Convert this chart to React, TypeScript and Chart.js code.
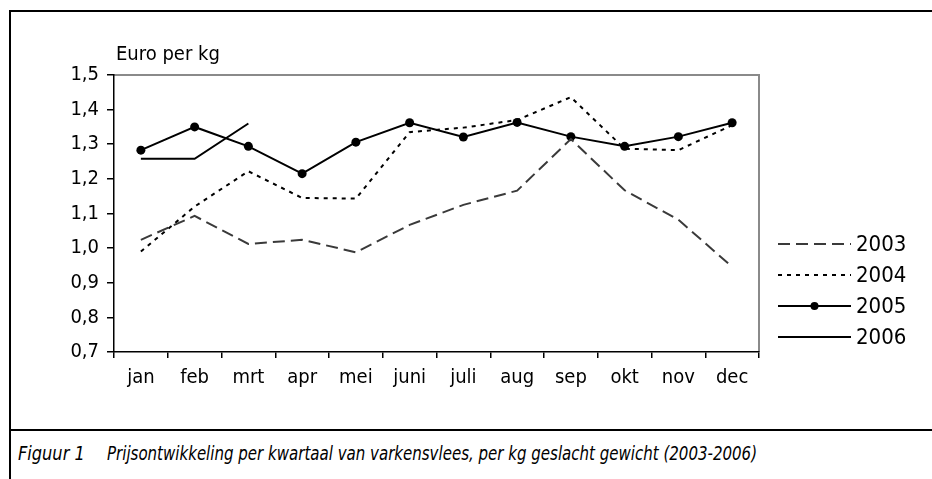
import React, { useEffect, useRef } from 'react';
import { Chart, registerables } from 'chart.js';

Chart.register(...registerables);

const months = ['jan', 'feb', 'mrt', 'apr', 'mei', 'juni', 'juli', 'aug', 'sep', 'okt', 'nov', 'dec'];
const years = ['2003', '2004', '2005', '2006'];
const s2003 = [1.024, 1.093, 1.012, 1.024, 0.988, 1.067, 1.125, 1.166, 1.315, 1.167, 1.082, 0.946];
const s2004 = [0.99, 1.12, 1.222, 1.145, 1.143, 1.335, 1.348, 1.37, 1.436, 1.287, 1.283, 1.355];
const s2005 = [1.283, 1.35, 1.294, 1.215, 1.306, 1.362, 1.321, 1.363, 1.322, 1.294, 1.322, 1.362];
const s2006 = [1.258, 1.258, 1.36, null, null, null, null, null, null, null, null, null];
const yMin = 0.7;
const yMax = 1.5;
const yStep = 0.1;
const yAxisTitle = 'Euro per kg';
const captionLabel = 'Figuur 1';
const captionText = 'Prijsontwikkeling per kwartaal van varkensvlees, per kg geslacht gewicht (2003-2006)';

const FONT = '"Liberation Sans Narrow", "Arial Narrow", "DejaVu Sans Condensed", "Liberation Sans", sans-serif';

const framePlugin = {
  id: 'framePlugin',
  beforeDraw(chart: any) {
    const { ctx, chartArea } = chart;
    ctx.save();
    ctx.strokeStyle = '#8a8a8a';
    ctx.lineWidth = 2;
    ctx.beginPath();
    ctx.moveTo(chartArea.left, chartArea.top);
    ctx.lineTo(chartArea.right, chartArea.top);
    ctx.lineTo(chartArea.right, chartArea.bottom);
    ctx.stroke();
    ctx.restore();
  },
  afterDraw(chart: any) {
    const { ctx, chartArea } = chart;
    ctx.save();
    ctx.fillStyle = '#000';
    ctx.font = `20px ${FONT}`;
    ctx.textBaseline = 'middle';
    ctx.textAlign = 'left';
    ctx.fillText(yAxisTitle, chartArea.left + 2, chartArea.top - 20);
    const x0 = chartArea.right + 19;
    const x1 = chartArea.right + 92;
    chart.data.datasets.forEach((ds: any, i: number) => {
      const y = chartArea.top + 169 + i * 31;
      ctx.strokeStyle = ds.borderColor;
      ctx.lineWidth = ds.borderWidth;
      ctx.setLineDash(ds.borderDash || []);
      ctx.beginPath();
      ctx.moveTo(x0, y);
      ctx.lineTo(x1, y);
      ctx.stroke();
      ctx.setLineDash([]);
      if (ds.pointRadius > 0) {
        ctx.fillStyle = ds.pointBackgroundColor;
        ctx.beginPath();
        ctx.arc((x0 + x1) / 2, y, ds.pointRadius - 0.5, 0, Math.PI * 2);
        ctx.fill();
      }
      ctx.fillStyle = '#000';
      ctx.font = `22px ${FONT}`;
      ctx.fillText(ds.label, x1 + 5, y + 1);
    });
    ctx.restore();
  },
};

export default function App() {
  const ref = useRef<HTMLCanvasElement>(null);

  useEffect(() => {
    const chart = new Chart(ref.current!, {
      type: 'line',
      data: {
        labels: months,
        datasets: [
          {
            label: years[0],
            data: s2003,
            borderColor: '#3a3a3a',
            borderWidth: 2,
            borderDash: [12, 6],
            pointRadius: 0,
            pointBackgroundColor: '#3a3a3a',
            tension: 0,
          },
          {
            label: years[1],
            data: s2004,
            borderColor: '#000',
            borderWidth: 2,
            borderDash: [4, 5],
            pointRadius: 0,
            pointBackgroundColor: '#000',
            tension: 0,
          },
          {
            label: years[2],
            data: s2005,
            borderColor: '#000',
            borderWidth: 2,
            pointRadius: 4.5,
            pointBackgroundColor: '#000',
            pointBorderColor: '#000',
            pointBorderWidth: 0,
            tension: 0,
          },
          {
            label: years[3],
            data: s2006,
            borderColor: '#000',
            borderWidth: 2,
            pointRadius: 0,
            pointBackgroundColor: '#000',
            tension: 0,
          },
        ],
      },
      options: {
        responsive: true,
        maintainAspectRatio: false,
        animation: false,
        layout: { padding: { top: 75, right: 173, left: 0, bottom: 0 } },
        plugins: {
          legend: { display: false },
          tooltip: { enabled: false },
          title: { display: false },
        },
        scales: {
          x: {
            offset: true,
            grid: { offset: true, drawOnChartArea: false, drawTicks: true, tickLength: 6, color: '#000', lineWidth: 1.5 },
            border: { color: '#000', width: 1.5 },
            ticks: { color: '#000', font: { family: FONT, size: 20 }, padding: 8, maxRotation: 0, autoSkip: false },
            afterFit: (scale: any) => {
              scale.height = 68;
            },
          },
          y: {
            min: yMin,
            max: yMax,
            grid: { drawOnChartArea: false, drawTicks: true, tickLength: 7, color: '#000', lineWidth: 1.5 },
            border: { color: '#000', width: 1.5 },
            ticks: {
              stepSize: yStep,
              color: '#000',
              font: { family: FONT, size: 20 },
              padding: 8,
              callback: (v: any) => Number(v).toFixed(1).replace('.', ','),
            },
            afterFit: (scale: any) => {
              scale.width = 114;
            },
          },
        },
      },
      plugins: [framePlugin],
    });
    return () => chart.destroy();
  }, []);

  const captionStyle: React.CSSProperties = {
    position: 'absolute',
    top: 440,
    fontFamily: FONT,
    fontStyle: 'italic',
    fontSize: 20,
    lineHeight: '26px',
    whiteSpace: 'nowrap',
    color: '#000',
    transformOrigin: 'left top',
  };

  return (
    <div style={{ position: 'fixed', left: 0, top: 0, width: 932, height: 479, overflow: 'hidden', background: '#fff' }}>
      <div
        style={{
          position: 'absolute',
          left: 9,
          top: 10,
          width: 940,
          height: 480,
          borderLeft: '2px solid #000',
          borderTop: '2px solid #000',
        }}
      />
      <div style={{ position: 'absolute', left: 0, top: 0, width: 932, height: 420 }}>
        <canvas ref={ref} style={{ display: 'block' }} />
      </div>
      <div style={{ position: 'absolute', left: 9, top: 429, width: 940, height: 0, borderTop: '2px solid #000' }} />
      <div style={{ ...captionStyle, left: 18, transform: 'scaleX(0.9)' }}>{captionLabel}</div>
      <div style={{ ...captionStyle, left: 107, transform: 'scaleX(0.835)' }}>{captionText}</div>
    </div>
  );
}
